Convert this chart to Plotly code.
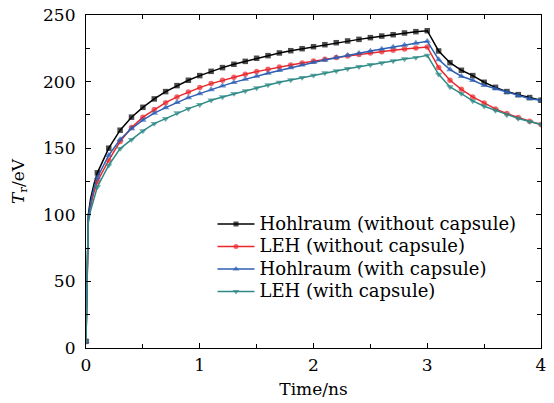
import plotly.graph_objects as go

# Time samples (ns): a few fine steps during the initial rise, then every 0.1 ns
time_ns = [0.0, 0.01, 0.02, 0.04, 0.07,
           0.1, 0.2, 0.3, 0.4, 0.5, 0.6, 0.7, 0.8, 0.9, 1.0,
           1.1, 1.2, 1.3, 1.4, 1.5, 1.6, 1.7, 1.8, 1.9, 2.0,
           2.1, 2.2, 2.3, 2.4, 2.5, 2.6, 2.7, 2.8, 2.9, 3.0,
           3.1, 3.2, 3.3, 3.4, 3.5, 3.6, 3.7, 3.8, 3.9, 4.0]

# Radiation temperature T_r (eV)
hohlraum_no_capsule = [5, 55, 100, 112, 123,
                       131.5, 150, 163.5, 173.3, 180.7, 187, 192.5, 197, 201, 204.5,
                       207.7, 210.5, 213, 215.2, 217.5, 219.5, 221.5, 223.2, 224.7, 226.2,
                       227.7, 229.2, 230.5, 231.7, 233, 234.2, 235.2, 236.5, 237.5, 238.2,
                       223, 214.2, 208.5, 204.5, 199.5, 195.7, 192.5, 190.2, 188, 186]

leh_no_capsule = [5, 50, 96, 106, 117,
                  125, 141, 155, 165.5, 173.3, 179, 184.2, 188.5, 192.2, 195.5,
                  198.5, 201, 203.2, 205.5, 207.5, 209.3, 211, 212.5, 214, 215.5,
                  216.7, 218, 219.2, 220.4, 221.5, 222.5, 223.5, 224.5, 225.2, 226,
                  210.5, 201, 194.2, 188.5, 184, 179.5, 176, 173, 170.3, 167.8]

hohlraum_capsule = [5, 52, 98, 109, 120,
                    128, 144.7, 156.5, 164.7, 171, 176.3, 180.5, 184.5, 188, 191,
                    194, 196.8, 199.4, 201.8, 204.1, 206.3, 208.4, 210.5, 212.5, 214.4,
                    216.2, 218, 219.7, 221.3, 222.9, 224.4, 225.9, 227.4, 228.9, 230.3,
                    216.5, 209, 204, 201, 197.2, 194.7, 192, 189.5, 187.2, 186]

leh_capsule = [5, 48, 94, 103, 113,
               121, 137.2, 149.7, 156.5, 163, 168.5, 172.2, 176.5, 179.7, 182.7,
               186, 188.5, 191, 193, 195.2, 197.5, 199.5, 201.2, 203, 204.7,
               206.5, 208, 209.7, 211.2, 212.7, 214, 215.5, 217, 218, 219.7,
               205.5, 196, 191, 185.5, 181.5, 178.3, 175, 172.3, 170, 167.8]

series_names = ["Hohlraum (without capsule)", "LEH (without capsule)",
                "Hohlraum (with capsule)", "LEH (with capsule)"]
series_values = [hohlraum_no_capsule, leh_no_capsule, hohlraum_capsule, leh_capsule]
series_colors = ["#000000", "#e9272c", "#2c5fb3", "#2e8a86"]
series_symbols = ["square", "circle", "triangle-up", "triangle-down"]
series_sizes = [5.5, 5.5, 6.5, 6.5]

FONT = "DejaVu Serif"

fig = go.Figure()
for name, vals, col, sym, ms in zip(series_names, series_values, series_colors,
                                    series_symbols, series_sizes):
    # markers only on t = 0 and the 0.1 ns grid
    sizes = [ms if (t == 0 or t >= 0.1 - 1e-9) else 0 for t in time_ns]
    fig.add_trace(go.Scatter(
        x=time_ns, y=vals, mode="lines+markers",
        name=f'<span style="font-size:18px">{name}</span>',
        line=dict(color=col, width=1.5),
        marker=dict(symbol=sym, size=sizes, color=col, line=dict(width=0)),
    ))

axis_common = dict(
    showline=True, linecolor="black", linewidth=1.2, mirror="ticks",
    ticks="inside", ticklen=5, tickwidth=1, tickcolor="black",
    showgrid=False, zeroline=False, automargin=False,
    tickfont=dict(family=FONT, size=17, color="black", weight="normal"),
    title_font=dict(family=FONT, size=17, color="black", weight="normal"),
)

fig.update_xaxes(
    range=[0, 4], tickvals=[0, 1, 2, 3, 4],
    minor=dict(dtick=0.5, ticks="inside", ticklen=4, tickcolor="black", showgrid=False),
    title=dict(text="Time/ns", standoff=9), ticklabelstandoff=1,
    **axis_common,
)
fig.update_yaxes(
    range=[0, 250], tickvals=[0, 50, 100, 150, 200, 250],
    minor=dict(dtick=25, ticks="inside", ticklen=4, tickcolor="black", showgrid=False),
    title=dict(text="<i>T</i><sub>r</sub>/eV", standoff=14), ticklabelstandoff=6,
    **axis_common,
)

fig.update_layout(
    width=554, height=403,
    margin=dict(l=86, r=13, t=15, b=55),
    plot_bgcolor="white", paper_bgcolor="white",
    font=dict(family=FONT, color="black"),
    legend=dict(
        x=0.278, y=0.421, xanchor="left", yanchor="top",
        bgcolor="rgba(0,0,0,0)", borderwidth=0,
        font=dict(family=FONT, size=15, color="black"),
        itemwidth=37,
    ),
)

fig.write_html("out.html")
